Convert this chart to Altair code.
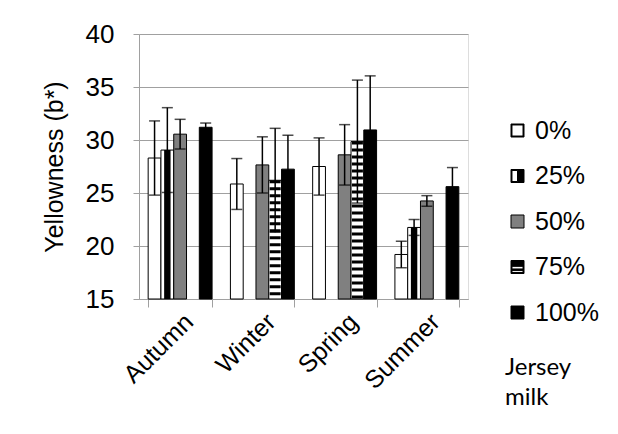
import altair as alt
import pandas as pd

seasons = ["Autumn", "Winter", "Spring", "Summer"]
levels = ["0%", "25%", "50%", "75%", "100%"]

mean_0 = [28.3, 25.85, 27.5, 19.2]
mean_25 = [29.05, None, None, 21.75]
mean_50 = [30.55, 27.65, 28.6, 24.25]
mean_75 = [None, 26.2, 29.85, None]
mean_100 = [31.2, 27.25, 30.95, 25.6]

err_0 = [3.5, 2.4, 2.7, 1.25]
err_25 = [4.0, None, None, 0.75]
err_50 = [1.4, 2.65, 2.85, 0.5]
err_75 = [None, 4.9, 5.8, None]
err_100 = [0.4, 3.2, 5.1, 1.8]

means = [mean_0, mean_25, mean_50, mean_75, mean_100]
errs = [err_0, err_25, err_50, err_75, err_100]

rows = []
for lev, mv, ev in zip(levels, means, errs):
    for s, m, e in zip(seasons, mv, ev):
        if m is None:
            continue
        rows.append({"Season": s, "Level": lev, "Mean": m, "lo": m - e, "hi": m + e})
df = pd.DataFrame(rows)

W, H = 329, 265
GRAY = "#a0a0a0"
FONT = "Liberation Sans"
FS = 25

x_enc = alt.X(
    "Season:N", sort=seasons,
    scale=alt.Scale(domain=seasons, paddingInner=0.223, paddingOuter=0.1115),
    axis=alt.Axis(title=None, labelAngle=-45, labelFont=FONT, labelFontSize=FS,
                  labelColor="black", tickBand="extent", tickSize=8, tickColor=GRAY,
                  domainColor=GRAY, grid=False, labelPadding=2),
)
xo_enc = alt.XOffset("Level:N", sort=levels,
                     scale=alt.Scale(domain=levels, paddingInner=0, paddingOuter=0))

y_axis = alt.Axis(title="Yellowness (b*)", values=[15, 20, 25, 30, 35, 40],
                  grid=True, gridColor=GRAY, domainColor=GRAY, tickColor=GRAY,
                  tickSize=6, labelFont=FONT, labelFontSize=26, labelColor="black",
                  labelPadding=19, titleFont=FONT, titleFontSize=FS,
                  titleFontWeight="normal", titleColor="black", titleX=-85,
                  titleBaseline="middle")
y_scale = alt.Scale(domain=[15, 40], nice=False, zero=False)

def Y(field):
    return alt.Y(f"{field}:Q", scale=y_scale, axis=y_axis)

base = alt.Chart(df).encode(x=x_enc, xOffset=xo_enc)

bars = base.mark_bar(stroke="black", strokeWidth=1).encode(
    y=Y("Mean"), y2=alt.datum(15),
    color=alt.Color("Level:N", sort=levels,
                    scale=alt.Scale(range=["white", "white", "#808080", "white", "black"]),
                    legend=None),
)

stripes = base.transform_filter(alt.datum.Level == "75%").mark_rule(
    color="black", strokeWidth=11, strokeDash=[3, 4]
).encode(y=Y("Mean"), y2=alt.datum(15))

half = base.transform_filter(alt.datum.Level == "25%").mark_rule(
    color="black", strokeWidth=6.4, xOffset=3.2
).encode(y=Y("Mean"), y2=alt.datum(15))

err_line = base.mark_rule(color="black", strokeWidth=1.5).encode(y=Y("lo"), y2="hi:Q")
cap_hi = base.mark_tick(color="black", thickness=1.5, size=11).encode(y=Y("hi"))
cap_lo = base.mark_tick(color="black", thickness=1.5, size=11).encode(y=Y("lo"))

paths = [
    "M-1,-1H1V1H-1Z M-0.85,-0.85V0.85H0.85V-0.85Z",
    "M-1,-1H1V1H-1Z M-0.85,-0.85V0.85H0V-0.85Z",
    "M-1,-1H1V1H-1Z",
    "M-1,-1H1V1H-1Z M-0.85,-0.1V0.3H0.85V-0.1Z M-0.85,0.55V0.85H0.85V0.55Z",
    "M-1,-1H1V1H-1Z",
]

leg = alt.Legend(
    orient="none", legendX=366, legendY=84, padding=0,
    symbolSize=169, symbolStrokeWidth=1, symbolOpacity=1,
    labelFont=FONT, labelFontSize=FS, labelColor="black", labelOffset=5,
    rowPadding=19.5,
    title=["Jersey", "milk"], titleOrient="bottom",
    titleFont="Lato", titleFontSize=24, titleFontWeight="normal", titleColor="black",
    titleLineHeight=30, titlePadding=30, titleAnchor="start", titleAlign="left",
)

legend_layer = base.mark_point(
    filled=True, size=0, opacity=1, strokeWidth=1
).encode(
    y=Y("Mean"),
    stroke=alt.value("black"),
    fill=alt.Fill("Level:N", scale=alt.Scale(domain=levels,
                  range=["black", "black", "#808080", "black", "black"]), legend=leg),
    shape=alt.Shape("Level:N", scale=alt.Scale(domain=levels, range=paths), legend=leg),
)

chart = alt.layer(bars, stripes, half, err_line, cap_hi, cap_lo, legend_layer).properties(
    width=W, height=H,
    autosize=alt.AutoSizeParams(type="none"),
    padding={"left": 131, "top": 26, "right": 140, "bottom": 127},
).configure_view(stroke=None).configure_legend(
    labelFont=FONT, labelFontSize=FS, labelColor="black"
).configure(background="white")

chart.save("out.html", embed_options={"renderer": "svg", "actions": False})
